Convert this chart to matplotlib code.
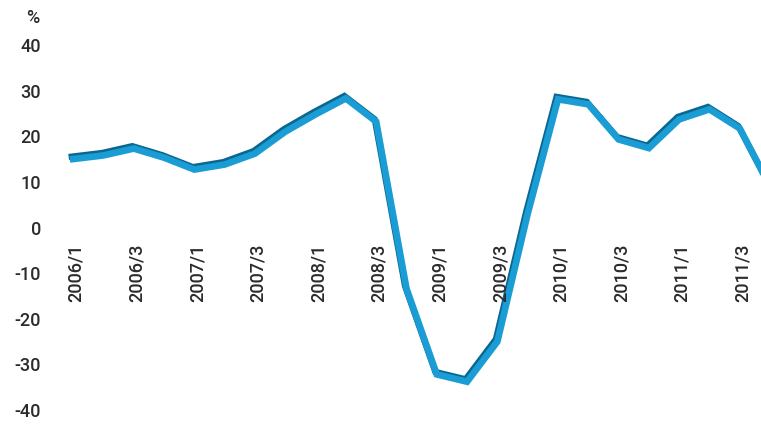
import matplotlib
matplotlib.use("Agg")
import matplotlib.pyplot as plt
import matplotlib.transforms as mtransforms

#%% ─── Data ──────────────────────────────────────────────────────────────────────

quarters = [f"{y}/{q}" for y in range(2006, 2012) for q in (1, 2, 3, 4)]
values = [15.0, 15.8, 17.3, 15.3,
          12.7, 13.8, 16.2, 21.0,
          24.8, 28.3, 23.2, -13.4,
          -32.2, -33.8, -25.0, 3.0,
          28.1, 27.0, 19.3, 17.4,
          23.7, 25.9, 21.7, 9.0]
yticks = [40, 30, 20, 10, 0, -10, -20, -30, -40]

LIGHT = "#1a9cd4"
DARK  = "#0b6690"
TEXT  = "#2b2b2b"
FONT  = "Roboto"

#%% ─── Figure ────────────────────────────────────────────────────────────────────

W, H = 761, 425
fig = plt.figure(figsize=(W / 100, H / 100), dpi=100)
ax = fig.add_axes([55 / W, 15 / H, (W - 55) / W, 365 / H])

x = list(range(len(values)))

# dark ribbon edge, shifted a little up/left to give the 3D look
shift = mtransforms.ScaledTranslation(-1.5 / 100, 2.5 / 100, fig.dpi_scale_trans)
ax.plot(x, values, color=DARK, lw=4.4, solid_joinstyle="miter",
        transform=ax.transData + shift, zorder=2)
ax.plot(x, values, color=LIGHT, lw=4.8, solid_joinstyle="miter", zorder=3)

ax.set_xlim(-0.6, 22.7)
ax.set_ylim(-40, 40)

for s in ax.spines.values():
    s.set_visible(False)

ax.set_xticks([])
ax.set_yticks(yticks)
ax.set_yticklabels([str(v) for v in yticks], fontsize=13, color=TEXT,
                   family=FONT, weight="medium")
ax.tick_params(axis="y", length=0, pad=10)

# rotated quarter labels sitting just under the zero line
for i, q in enumerate(quarters):
    if i % 2 == 0:
        ax.text(i + 0.1, -3.6, q, rotation=90, ha="center", va="top",
                fontsize=13, color=TEXT, family=FONT, weight="medium")

fig.text(33 / W, 1 - 18 / H, "%", ha="center", va="center",
         fontsize=13, color=TEXT, family=FONT, weight="medium")

fig.savefig("out.png", dpi=100)
